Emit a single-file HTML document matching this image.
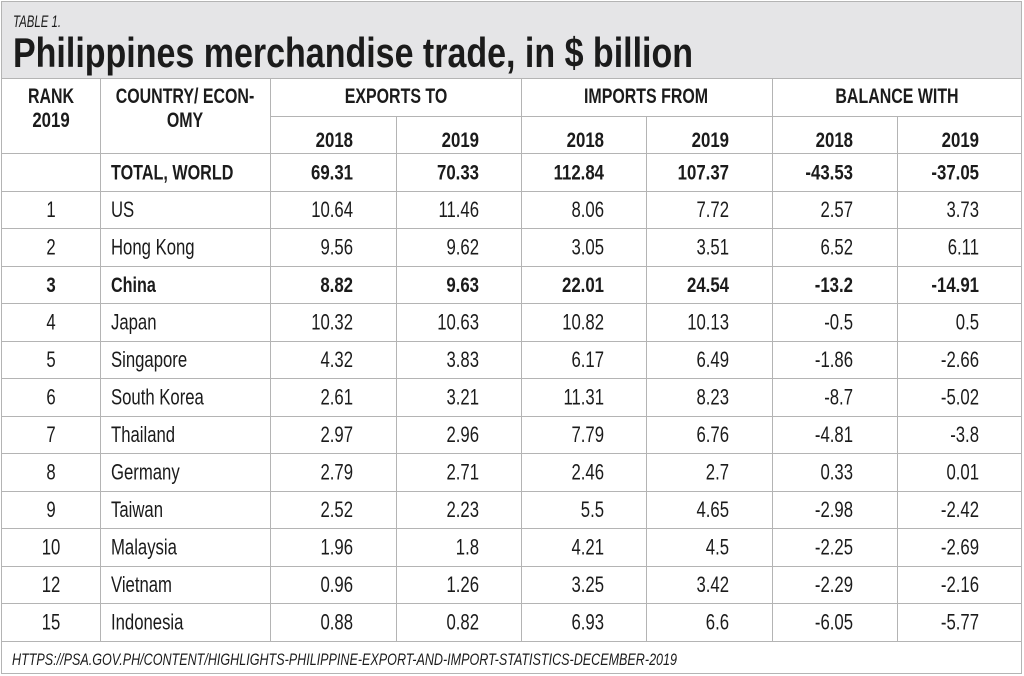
<!DOCTYPE html>
<html>
<head>
<meta charset="utf-8">
<style>
  html,body{margin:0;padding:0;background:#fff;}
  svg{display:block;}
  text{font-family:"Liberation Sans",sans-serif;fill:#1b1b1b;}
  .r{font-size:22px;font-weight:normal;}
  .b{font-size:21px;font-weight:bold;}
  .ln{stroke:#b4b4b4;stroke-width:1;fill:none;}
</style>
</head>
<body>
<svg width="1024" height="676" viewBox="0 0 1024 676" xmlns="http://www.w3.org/2000/svg" shape-rendering="crispEdges">
  <rect x="0" y="0" width="1024" height="676" fill="#ffffff"/>
  <rect x="1" y="1" width="1021" height="77" fill="#e5e5e7"/>

  <!-- outer border -->
  <rect class="ln" x="1.5" y="1.5" width="1020" height="672"/>

  <!-- horizontal lines -->
  <line class="ln" x1="1" y1="78.5" x2="1022" y2="78.5"/>
  <line class="ln" x1="270" y1="116.5" x2="1022" y2="116.5"/>
  <line class="ln" x1="1" y1="153.5" x2="1022" y2="153.5"/>
  <line class="ln" x1="1" y1="191.5" x2="1022" y2="191.5"/>
  <line class="ln" x1="1" y1="228.5" x2="1022" y2="228.5"/>
  <line class="ln" x1="1" y1="266.5" x2="1022" y2="266.5"/>
  <line class="ln" x1="1" y1="303.5" x2="1022" y2="303.5"/>
  <line class="ln" x1="1" y1="341.5" x2="1022" y2="341.5"/>
  <line class="ln" x1="1" y1="378.5" x2="1022" y2="378.5"/>
  <line class="ln" x1="1" y1="416.5" x2="1022" y2="416.5"/>
  <line class="ln" x1="1" y1="453.5" x2="1022" y2="453.5"/>
  <line class="ln" x1="1" y1="491.5" x2="1022" y2="491.5"/>
  <line class="ln" x1="1" y1="528.5" x2="1022" y2="528.5"/>
  <line class="ln" x1="1" y1="566.5" x2="1022" y2="566.5"/>
  <line class="ln" x1="1" y1="603.5" x2="1022" y2="603.5"/>
  <line class="ln" x1="1" y1="641.5" x2="1022" y2="641.5"/>

  <!-- vertical lines -->
  <line class="ln" x1="100.5" y1="78" x2="100.5" y2="641"/>
  <line class="ln" x1="270.5" y1="78" x2="270.5" y2="641"/>
  <line class="ln" x1="521.5" y1="78" x2="521.5" y2="641"/>
  <line class="ln" x1="772.5" y1="78" x2="772.5" y2="641"/>
  <line class="ln" x1="396.5" y1="116" x2="396.5" y2="641"/>
  <line class="ln" x1="646.5" y1="116" x2="646.5" y2="641"/>
  <line class="ln" x1="897.5" y1="116" x2="897.5" y2="641"/>

  <!-- title -->
  <text x="13" y="27" style="font-size:17px;font-style:italic;" textLength="48" lengthAdjust="spacingAndGlyphs">TABLE 1.</text>
  <text x="13" y="67" style="font-size:42px;font-weight:bold;" textLength="680" lengthAdjust="spacingAndGlyphs">Philippines merchandise trade, in $ billion</text>

  <!-- headers -->
  <text class="b" text-anchor="middle" transform="translate(51,103) scale(0.76,1)">RANK</text>
  <text class="b" text-anchor="middle" transform="translate(51,127) scale(0.8,1)">2019</text>
  <text class="b" text-anchor="middle" transform="translate(185,103) scale(0.76,1)">COUNTRY/ ECON-</text>
  <text class="b" text-anchor="middle" transform="translate(185,127) scale(0.76,1)">OMY</text>
  <text class="b" text-anchor="middle" transform="translate(396,103) scale(0.76,1)">EXPORTS TO</text>
  <text class="b" text-anchor="middle" transform="translate(646,103) scale(0.76,1)">IMPORTS FROM</text>
  <text class="b" text-anchor="middle" transform="translate(897,103) scale(0.76,1)">BALANCE WITH</text>

  <text class="b" text-anchor="end" transform="translate(353,147) scale(0.8,1)">2018</text>
  <text class="b" text-anchor="end" transform="translate(479,147) scale(0.8,1)">2019</text>
  <text class="b" text-anchor="end" transform="translate(604,147) scale(0.8,1)">2018</text>
  <text class="b" text-anchor="end" transform="translate(729,147) scale(0.8,1)">2019</text>
  <text class="b" text-anchor="end" transform="translate(853,147) scale(0.8,1)">2018</text>
  <text class="b" text-anchor="end" transform="translate(979,147) scale(0.8,1)">2019</text>

  <!-- Row 0: TOTAL -->
  <text class="b" transform="translate(111,179.25) scale(0.77,1)">TOTAL, WORLD</text>
  <text class="b" text-anchor="end" transform="translate(353,179.25) scale(0.8,1)">69.31</text>
  <text class="b" text-anchor="end" transform="translate(479,179.25) scale(0.8,1)">70.33</text>
  <text class="b" text-anchor="end" transform="translate(604,179.25) scale(0.8,1)">112.84</text>
  <text class="b" text-anchor="end" transform="translate(729,179.25) scale(0.8,1)">107.37</text>
  <text class="b" text-anchor="end" transform="translate(853,179.25) scale(0.8,1)">-43.53</text>
  <text class="b" text-anchor="end" transform="translate(979,179.25) scale(0.8,1)">-37.05</text>

  <!-- Row 1: US -->
  <text class="r" text-anchor="middle" transform="translate(51,216.75) scale(0.76,1)">1</text>
  <text class="r" transform="translate(111,216.75) scale(0.76,1)">US</text>
  <text class="r" text-anchor="end" transform="translate(353,216.75) scale(0.76,1)">10.64</text>
  <text class="r" text-anchor="end" transform="translate(479,216.75) scale(0.76,1)">11.46</text>
  <text class="r" text-anchor="end" transform="translate(604,216.75) scale(0.76,1)">8.06</text>
  <text class="r" text-anchor="end" transform="translate(729,216.75) scale(0.76,1)">7.72</text>
  <text class="r" text-anchor="end" transform="translate(853,216.75) scale(0.76,1)">2.57</text>
  <text class="r" text-anchor="end" transform="translate(979,216.75) scale(0.76,1)">3.73</text>

  <!-- Row 2: Hong Kong -->
  <text class="r" text-anchor="middle" transform="translate(51,254.25) scale(0.76,1)">2</text>
  <text class="r" transform="translate(111,254.25) scale(0.76,1)">Hong Kong</text>
  <text class="r" text-anchor="end" transform="translate(353,254.25) scale(0.76,1)">9.56</text>
  <text class="r" text-anchor="end" transform="translate(479,254.25) scale(0.76,1)">9.62</text>
  <text class="r" text-anchor="end" transform="translate(604,254.25) scale(0.76,1)">3.05</text>
  <text class="r" text-anchor="end" transform="translate(729,254.25) scale(0.76,1)">3.51</text>
  <text class="r" text-anchor="end" transform="translate(853,254.25) scale(0.76,1)">6.52</text>
  <text class="r" text-anchor="end" transform="translate(979,254.25) scale(0.76,1)">6.11</text>

  <!-- Row 3: China (bold) -->
  <text class="b" text-anchor="middle" transform="translate(51,291.75) scale(0.8,1)">3</text>
  <text class="b" transform="translate(111,291.75) scale(0.77,1)">China</text>
  <text class="b" text-anchor="end" transform="translate(353,291.75) scale(0.8,1)">8.82</text>
  <text class="b" text-anchor="end" transform="translate(479,291.75) scale(0.8,1)">9.63</text>
  <text class="b" text-anchor="end" transform="translate(604,291.75) scale(0.8,1)">22.01</text>
  <text class="b" text-anchor="end" transform="translate(729,291.75) scale(0.8,1)">24.54</text>
  <text class="b" text-anchor="end" transform="translate(853,291.75) scale(0.8,1)">-13.2</text>
  <text class="b" text-anchor="end" transform="translate(979,291.75) scale(0.8,1)">-14.91</text>

  <!-- Row 4: Japan -->
  <text class="r" text-anchor="middle" transform="translate(51,329.25) scale(0.76,1)">4</text>
  <text class="r" transform="translate(111,329.25) scale(0.76,1)">Japan</text>
  <text class="r" text-anchor="end" transform="translate(353,329.25) scale(0.76,1)">10.32</text>
  <text class="r" text-anchor="end" transform="translate(479,329.25) scale(0.76,1)">10.63</text>
  <text class="r" text-anchor="end" transform="translate(604,329.25) scale(0.76,1)">10.82</text>
  <text class="r" text-anchor="end" transform="translate(729,329.25) scale(0.76,1)">10.13</text>
  <text class="r" text-anchor="end" transform="translate(853,329.25) scale(0.76,1)">-0.5</text>
  <text class="r" text-anchor="end" transform="translate(979,329.25) scale(0.76,1)">0.5</text>

  <!-- Row 5: Singapore -->
  <text class="r" text-anchor="middle" transform="translate(51,366.75) scale(0.76,1)">5</text>
  <text class="r" transform="translate(111,366.75) scale(0.76,1)">Singapore</text>
  <text class="r" text-anchor="end" transform="translate(353,366.75) scale(0.76,1)">4.32</text>
  <text class="r" text-anchor="end" transform="translate(479,366.75) scale(0.76,1)">3.83</text>
  <text class="r" text-anchor="end" transform="translate(604,366.75) scale(0.76,1)">6.17</text>
  <text class="r" text-anchor="end" transform="translate(729,366.75) scale(0.76,1)">6.49</text>
  <text class="r" text-anchor="end" transform="translate(853,366.75) scale(0.76,1)">-1.86</text>
  <text class="r" text-anchor="end" transform="translate(979,366.75) scale(0.76,1)">-2.66</text>

  <!-- Row 6: South Korea -->
  <text class="r" text-anchor="middle" transform="translate(51,404.25) scale(0.76,1)">6</text>
  <text class="r" transform="translate(111,404.25) scale(0.76,1)">South Korea</text>
  <text class="r" text-anchor="end" transform="translate(353,404.25) scale(0.76,1)">2.61</text>
  <text class="r" text-anchor="end" transform="translate(479,404.25) scale(0.76,1)">3.21</text>
  <text class="r" text-anchor="end" transform="translate(604,404.25) scale(0.76,1)">11.31</text>
  <text class="r" text-anchor="end" transform="translate(729,404.25) scale(0.76,1)">8.23</text>
  <text class="r" text-anchor="end" transform="translate(853,404.25) scale(0.76,1)">-8.7</text>
  <text class="r" text-anchor="end" transform="translate(979,404.25) scale(0.76,1)">-5.02</text>

  <!-- Row 7: Thailand -->
  <text class="r" text-anchor="middle" transform="translate(51,441.75) scale(0.76,1)">7</text>
  <text class="r" transform="translate(111,441.75) scale(0.76,1)">Thailand</text>
  <text class="r" text-anchor="end" transform="translate(353,441.75) scale(0.76,1)">2.97</text>
  <text class="r" text-anchor="end" transform="translate(479,441.75) scale(0.76,1)">2.96</text>
  <text class="r" text-anchor="end" transform="translate(604,441.75) scale(0.76,1)">7.79</text>
  <text class="r" text-anchor="end" transform="translate(729,441.75) scale(0.76,1)">6.76</text>
  <text class="r" text-anchor="end" transform="translate(853,441.75) scale(0.76,1)">-4.81</text>
  <text class="r" text-anchor="end" transform="translate(979,441.75) scale(0.76,1)">-3.8</text>

  <!-- Row 8: Germany -->
  <text class="r" text-anchor="middle" transform="translate(51,479.25) scale(0.76,1)">8</text>
  <text class="r" transform="translate(111,479.25) scale(0.76,1)">Germany</text>
  <text class="r" text-anchor="end" transform="translate(353,479.25) scale(0.76,1)">2.79</text>
  <text class="r" text-anchor="end" transform="translate(479,479.25) scale(0.76,1)">2.71</text>
  <text class="r" text-anchor="end" transform="translate(604,479.25) scale(0.76,1)">2.46</text>
  <text class="r" text-anchor="end" transform="translate(729,479.25) scale(0.76,1)">2.7</text>
  <text class="r" text-anchor="end" transform="translate(853,479.25) scale(0.76,1)">0.33</text>
  <text class="r" text-anchor="end" transform="translate(979,479.25) scale(0.76,1)">0.01</text>

  <!-- Row 9: Taiwan -->
  <text class="r" text-anchor="middle" transform="translate(51,516.75) scale(0.76,1)">9</text>
  <text class="r" transform="translate(111,516.75) scale(0.76,1)">Taiwan</text>
  <text class="r" text-anchor="end" transform="translate(353,516.75) scale(0.76,1)">2.52</text>
  <text class="r" text-anchor="end" transform="translate(479,516.75) scale(0.76,1)">2.23</text>
  <text class="r" text-anchor="end" transform="translate(604,516.75) scale(0.76,1)">5.5</text>
  <text class="r" text-anchor="end" transform="translate(729,516.75) scale(0.76,1)">4.65</text>
  <text class="r" text-anchor="end" transform="translate(853,516.75) scale(0.76,1)">-2.98</text>
  <text class="r" text-anchor="end" transform="translate(979,516.75) scale(0.76,1)">-2.42</text>

  <!-- Row 10: Malaysia -->
  <text class="r" text-anchor="middle" transform="translate(51,554.25) scale(0.76,1)">10</text>
  <text class="r" transform="translate(111,554.25) scale(0.76,1)">Malaysia</text>
  <text class="r" text-anchor="end" transform="translate(353,554.25) scale(0.76,1)">1.96</text>
  <text class="r" text-anchor="end" transform="translate(479,554.25) scale(0.76,1)">1.8</text>
  <text class="r" text-anchor="end" transform="translate(604,554.25) scale(0.76,1)">4.21</text>
  <text class="r" text-anchor="end" transform="translate(729,554.25) scale(0.76,1)">4.5</text>
  <text class="r" text-anchor="end" transform="translate(853,554.25) scale(0.76,1)">-2.25</text>
  <text class="r" text-anchor="end" transform="translate(979,554.25) scale(0.76,1)">-2.69</text>

  <!-- Row 11: Vietnam -->
  <text class="r" text-anchor="middle" transform="translate(51,591.75) scale(0.76,1)">12</text>
  <text class="r" transform="translate(111,591.75) scale(0.76,1)">Vietnam</text>
  <text class="r" text-anchor="end" transform="translate(353,591.75) scale(0.76,1)">0.96</text>
  <text class="r" text-anchor="end" transform="translate(479,591.75) scale(0.76,1)">1.26</text>
  <text class="r" text-anchor="end" transform="translate(604,591.75) scale(0.76,1)">3.25</text>
  <text class="r" text-anchor="end" transform="translate(729,591.75) scale(0.76,1)">3.42</text>
  <text class="r" text-anchor="end" transform="translate(853,591.75) scale(0.76,1)">-2.29</text>
  <text class="r" text-anchor="end" transform="translate(979,591.75) scale(0.76,1)">-2.16</text>

  <!-- Row 12: Indonesia -->
  <text class="r" text-anchor="middle" transform="translate(51,629.25) scale(0.76,1)">15</text>
  <text class="r" transform="translate(111,629.25) scale(0.76,1)">Indonesia</text>
  <text class="r" text-anchor="end" transform="translate(353,629.25) scale(0.76,1)">0.88</text>
  <text class="r" text-anchor="end" transform="translate(479,629.25) scale(0.76,1)">0.82</text>
  <text class="r" text-anchor="end" transform="translate(604,629.25) scale(0.76,1)">6.93</text>
  <text class="r" text-anchor="end" transform="translate(729,629.25) scale(0.76,1)">6.6</text>
  <text class="r" text-anchor="end" transform="translate(853,629.25) scale(0.76,1)">-6.05</text>
  <text class="r" text-anchor="end" transform="translate(979,629.25) scale(0.76,1)">-5.77</text>

  <!-- footer -->
  <text x="12" y="665" style="font-size:17px;font-style:italic;" textLength="665" lengthAdjust="spacingAndGlyphs">HTTPS://PSA.GOV.PH/CONTENT/HIGHLIGHTS-PHILIPPINE-EXPORT-AND-IMPORT-STATISTICS-DECEMBER-2019</text>
</svg>
</body>
</html>
